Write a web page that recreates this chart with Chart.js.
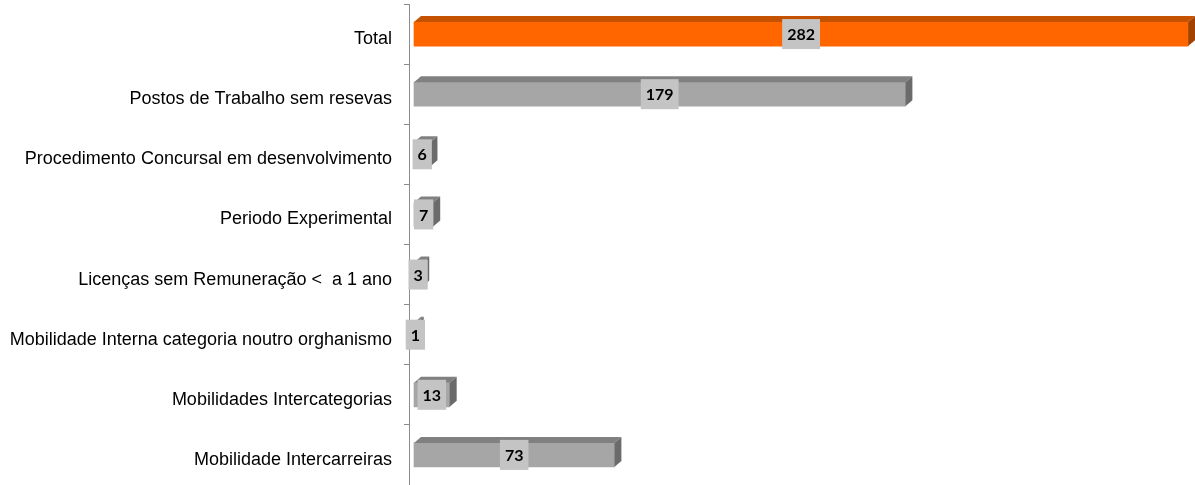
<!DOCTYPE html>
<html>
<head>
<meta charset="utf-8">
<script src="https://cdn.jsdelivr.net/npm/chart.js@4"></script>
<style>
  html, body { margin: 0; padding: 0; background: #fff; overflow: hidden; }
  #wrap { width: 1195px; height: 485px; }
</style>
</head>
<body>
<div id="wrap"><canvas id="chart"></canvas></div>
<script>
// --- Data ---
const categories = [
    'Total',
    'Postos de Trabalho sem resevas',
    'Procedimento Concursal em desenvolvimento',
    'Periodo Experimental',
    'Licenças sem Remuneração <  a 1 ano',
    'Mobilidade Interna categoria noutro orghanismo',
    'Mobilidades Intercategorias',
    'Mobilidade Intercarreiras'
];
const values = [282, 179, 6, 7, 3, 1, 13, 73];

// --- Colours (front / top / side) ---
const front = values.map((v, i) => i === 0 ? '#ff6600' : '#a6a6a6');
const topFace = values.map((v, i) => i === 0 ? '#c55200' : '#808080');
const sideFace = values.map((v, i) => i === 0 ? '#a34200' : '#6b6b6b');

// fake 3D depth of the bars
const dx = 7, dy = 6;

const bar3d = {
    id: 'bar3d',
    afterDatasetsDraw(chart) {
        const ctx = chart.ctx;
        const meta = chart.getDatasetMeta(0);
        ctx.save();
        meta.data.forEach((bar, i) => {
            const p = bar.getProps(['x', 'y', 'base', 'height'], true);
            const t = p.y - p.height / 2, b = p.y + p.height / 2;
            // top face
            ctx.fillStyle = topFace[i];
            ctx.beginPath();
            ctx.moveTo(p.base, t);
            ctx.lineTo(p.base + dx, t - dy);
            ctx.lineTo(p.x + dx, t - dy);
            ctx.lineTo(p.x, t);
            ctx.closePath();
            ctx.fill();
            // side face
            ctx.fillStyle = sideFace[i];
            ctx.beginPath();
            ctx.moveTo(p.x, t);
            ctx.lineTo(p.x + dx, t - dy);
            ctx.lineTo(p.x + dx, b - dy);
            ctx.lineTo(p.x, b);
            ctx.closePath();
            ctx.fill();
        });
        // value labels in grey boxes
        ctx.font = 'bold 16px Lato';
        ctx.textAlign = 'center';
        ctx.textBaseline = 'middle';
        meta.data.forEach((bar, i) => {
            const p = bar.getProps(['x', 'y', 'base'], true);
            const txt = String(values[i]);
            const w = ctx.measureText(txt).width + 10;
            const cx = (p.base + p.x) / 2;
            ctx.fillStyle = '#c4c4c4';
            ctx.fillRect(cx - w / 2, p.y - 15, w, 30);
            ctx.fillStyle = '#000';
            ctx.fillText(txt, cx, p.y + 1);
        });
        ctx.restore();
    }
};

new Chart(document.getElementById('chart'), {
    type: 'bar',
    data: {
        labels: categories,
        datasets: [{
            data: values,
            backgroundColor: front,
            barThickness: 24
        }]
    },
    options: {
        indexAxis: 'y',
        responsive: true,
        maintainAspectRatio: false,
        animation: false,
        layout: { padding: { top: 4, right: 0, bottom: 0, left: 0 } },
        plugins: {
            legend: { display: false },
            tooltip: { enabled: false }
        },
        scales: {
            x: {
                display: false,
                min: -1.82,
                max: 284.5
            },
            y: {
                afterFit(scale) {
                    scale.width = 409;
                    scale.paddingTop = 0;
                    scale.paddingBottom = 0;
                },
                border: { display: true, color: '#8c8c8c', width: 1 },
                grid: {
                    drawOnChartArea: false,
                    drawTicks: true,
                    tickLength: 5,
                    color: '#8c8c8c'
                },
                ticks: {
                    color: '#000',
                    padding: 12,
                    labelOffset: 5,
                    font: { family: 'Liberation Sans', size: 18 }
                }
            }
        }
    },
    plugins: [bar3d]
});
</script>
</body>
</html>
